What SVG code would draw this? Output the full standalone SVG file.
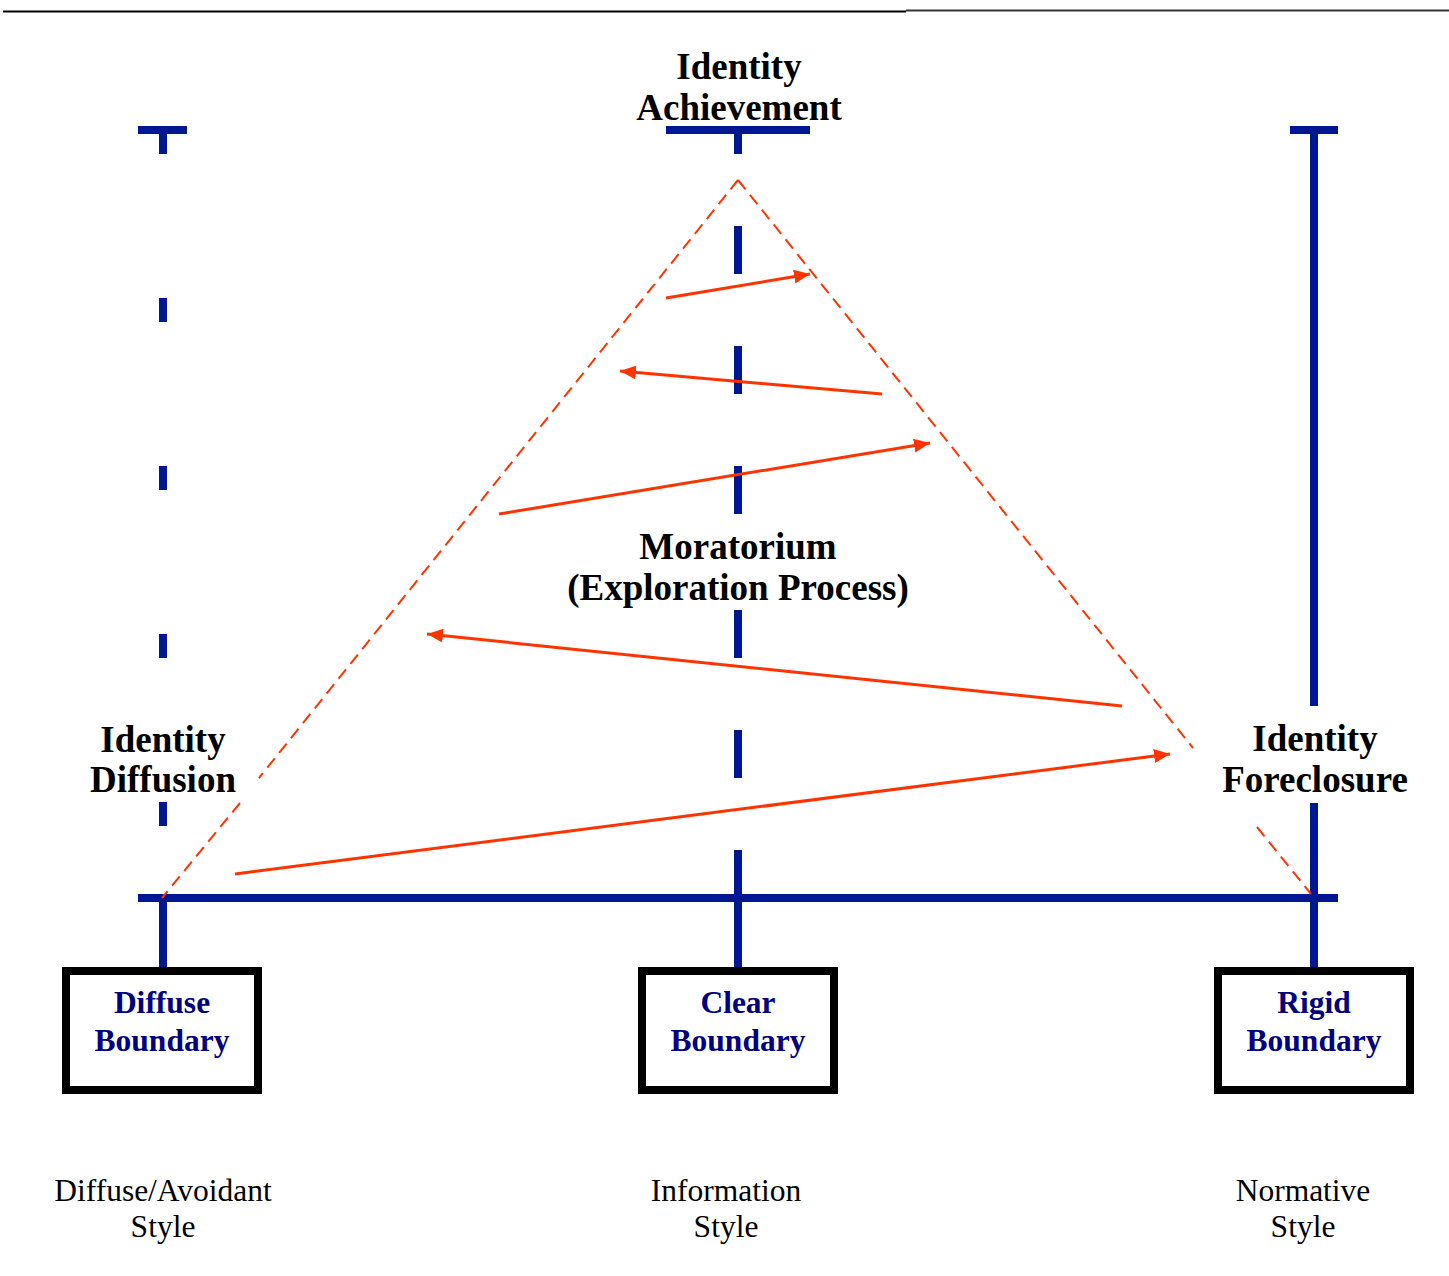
<svg xmlns="http://www.w3.org/2000/svg" width="1449" height="1276" viewBox="0 0 1449 1276">
  <style>
    .axis { stroke: #001794; stroke-width: 8; fill: none; }
    .tri { stroke: #FF3300; stroke-width: 2; stroke-dasharray: 12 7; fill: none; }
    .arr { stroke: #FF3300; stroke-width: 3; fill: none; marker-end: url(#ah); }
    .lbl { font-family: "Liberation Serif", "Times New Roman", serif; font-weight: bold; font-size: 37px; fill: #000; text-anchor: middle; }
    .box { fill: #fff; stroke: #000; stroke-width: 8; }
    .btxt { font-family: "Liberation Serif", "Times New Roman", serif; font-weight: bold; font-size: 31.5px; fill: #000080; text-anchor: middle; }
    .sty { font-family: "Liberation Serif", "Times New Roman", serif; font-size: 31.5px; fill: #000; text-anchor: middle; }
  </style>
  <defs>
    <marker id="ah" markerUnits="userSpaceOnUse" markerWidth="17" markerHeight="15" refX="16" refY="7" orient="auto">
      <path d="M0,0 L16,7 L0,14 Z" fill="#FF3300"/>
    </marker>
  </defs>
  <rect width="1449" height="1276" fill="#fff"/>
  <g id="header">
    <line x1="3" y1="11.5" x2="906" y2="11.5" stroke="#000" stroke-width="2"/>
    <line x1="906" y1="10.5" x2="1449" y2="10.5" stroke="#333" stroke-width="2"/>
  </g>
  <g id="connectors">
    <!-- left axis -->
    <line class="axis" x1="138" y1="130" x2="187" y2="130"/>
    <line class="axis" x1="163" y1="130" x2="163" y2="154"/>
    <line class="axis" x1="163" y1="298" x2="163" y2="322"/>
    <line class="axis" x1="163" y1="466" x2="163" y2="490"/>
    <line class="axis" x1="163" y1="634" x2="163" y2="658"/>
    <line class="axis" x1="163" y1="802" x2="163" y2="826"/>
    <line class="axis" x1="163" y1="898" x2="163" y2="968"/>
    <!-- middle axis -->
    <line class="axis" x1="666" y1="130" x2="810" y2="130"/>
    <line class="axis" x1="738" y1="130" x2="738" y2="154"/>
    <line class="axis" x1="738" y1="226" x2="738" y2="274"/>
    <line class="axis" x1="738" y1="346" x2="738" y2="394"/>
    <line class="axis" x1="738" y1="466" x2="738" y2="514"/>
    <line class="axis" x1="738" y1="610" x2="738" y2="658"/>
    <line class="axis" x1="738" y1="730" x2="738" y2="778"/>
    <line class="axis" x1="738" y1="850" x2="738" y2="968"/>
    <!-- right axis -->
    <line class="axis" x1="1290" y1="130" x2="1338" y2="130"/>
    <line class="axis" x1="1314" y1="130" x2="1314" y2="706"/>
    <line class="axis" x1="1314" y1="803" x2="1314" y2="968"/>
    <!-- baseline -->
    <line class="axis" x1="138" y1="898" x2="1338" y2="898"/>
    <!-- dashed triangle -->
    <line class="tri" x1="738" y1="180" x2="259" y2="778"/>
    <line class="tri" x1="240" y1="803" x2="162" y2="898"/>
    <line class="tri" x1="738" y1="180" x2="1193" y2="748"/>
    <line class="tri" x1="1257" y1="827" x2="1311" y2="894"/>
    <!-- zigzag arrows -->
    <line class="arr" x1="666" y1="298" x2="810" y2="274"/>
    <line class="arr" x1="882" y1="394" x2="620" y2="371"/>
    <line class="arr" x1="499" y1="514" x2="930" y2="443"/>
    <line class="arr" x1="1122" y1="706" x2="427" y2="634"/>
    <line class="arr" x1="235" y1="874" x2="1170" y2="754"/>
  </g>
  <g id="achievement">
    <text class="lbl" x="739" y="79">Identity</text>
    <text class="lbl" x="739" y="120">Achievement</text>
  </g>
  <g id="moratorium">
    <text class="lbl" x="738" y="559">Moratorium</text>
    <text class="lbl" x="738" y="600">(Exploration Process)</text>
  </g>
  <g id="diffusion">
    <text class="lbl" x="163" y="752">Identity</text>
    <text class="lbl" x="163" y="792">Diffusion</text>
  </g>
  <g id="foreclosure">
    <text class="lbl" x="1315" y="751">Identity</text>
    <text class="lbl" x="1315" y="792">Foreclosure</text>
  </g>
  <g id="diffuse-boundary">
    <rect class="box" x="66" y="971" width="192" height="119"/>
    <text class="btxt" x="162" y="1013">Diffuse</text>
    <text class="btxt" x="162" y="1051">Boundary</text>
  </g>
  <g id="clear-boundary">
    <rect class="box" x="642" y="971" width="192" height="119"/>
    <text class="btxt" x="738" y="1013">Clear</text>
    <text class="btxt" x="738" y="1051">Boundary</text>
  </g>
  <g id="rigid-boundary">
    <rect class="box" x="1218" y="971" width="192" height="119"/>
    <text class="btxt" x="1314" y="1013">Rigid</text>
    <text class="btxt" x="1314" y="1051">Boundary</text>
  </g>
  <g id="diffuse-style">
    <text class="sty" x="163" y="1201">Diffuse/Avoidant</text>
    <text class="sty" x="163" y="1237">Style</text>
  </g>
  <g id="information-style">
    <text class="sty" x="726" y="1201">Information</text>
    <text class="sty" x="726" y="1237">Style</text>
  </g>
  <g id="normative-style">
    <text class="sty" x="1303" y="1201">Normative</text>
    <text class="sty" x="1303" y="1237">Style</text>
  </g>
</svg>
